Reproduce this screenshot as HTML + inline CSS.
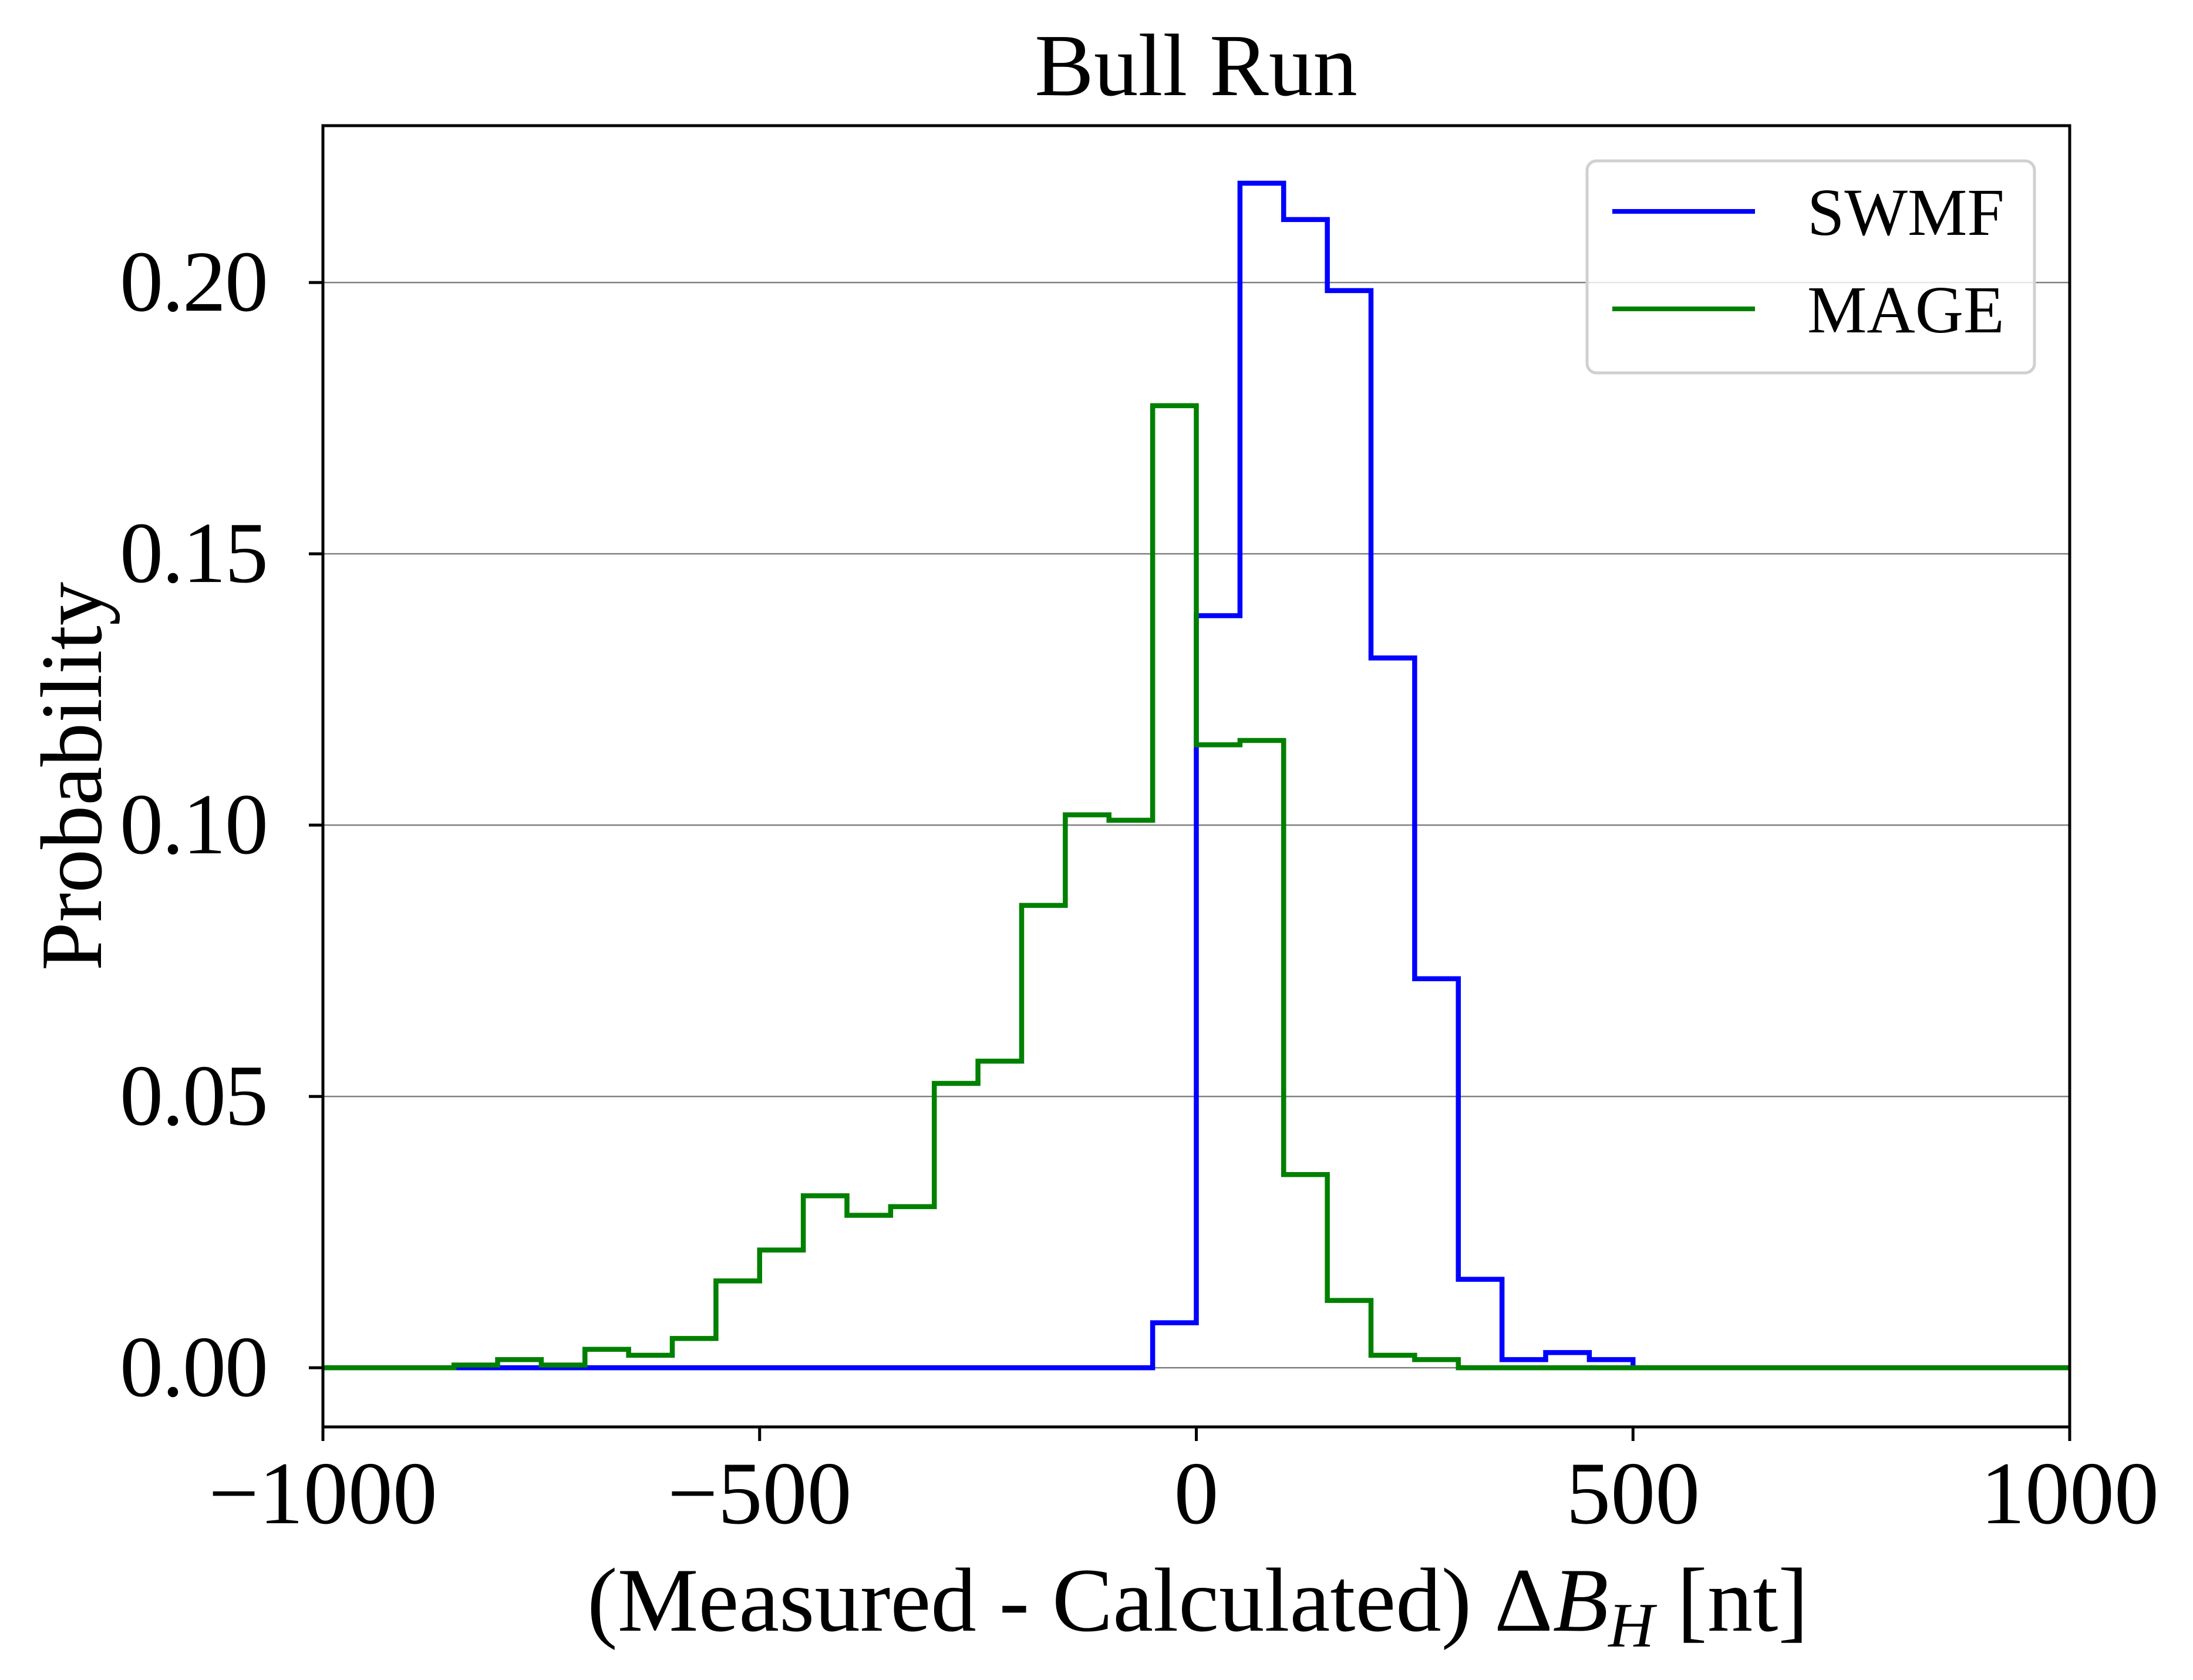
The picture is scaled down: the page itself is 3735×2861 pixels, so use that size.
<!DOCTYPE html>
<html><head><meta charset="utf-8"><style>
html,body{margin:0;padding:0;background:#fff}
svg{display:block}
text{font-family:"Liberation Serif",serif;fill:#000}
</style></head><body>
<svg id="chart" width="3735" height="2861" viewBox="0 0 3735 2861" xmlns="http://www.w3.org/2000/svg">
<rect width="3735" height="2861" fill="#fff"/>
<g id="grid"></g>
<g id="series"></g>
<rect x="550" y="214" width="2975" height="2216" fill="none" stroke="#000" stroke-width="5"/>
<g id="ticks"></g>
<text x="2037" y="162" font-size="151" text-anchor="middle">Bull Run</text>
<text x="2040" y="2777" font-size="155" text-anchor="middle">(Measured - Calculated) Δ<tspan font-style="italic">B</tspan><tspan font-style="italic" font-size="108" dy="27">H</tspan><tspan dy="-27"> [nt]</tspan></text>
<text x="0" y="0" font-size="149" text-anchor="middle" transform="translate(172,1322) rotate(-90)">Probability</text>
<g>
<rect x="2703" y="274" width="762" height="361" rx="16" fill="#fff" fill-opacity="0.8" stroke="#d0d0d0" stroke-width="5"/>
<line x1="2746" y1="360" x2="2989" y2="360" stroke="#0000ff" stroke-width="8"/>
<text x="3078" y="400" font-size="114">SWMF</text>
<line x1="2746" y1="526" x2="2989" y2="526" stroke="#008000" stroke-width="8"/>
<text x="3078" y="566" font-size="114">MAGE</text>
</g>
</svg>
<script>
const binEdges=[];for(let e=-1000;e<=1000;e+=50)binEdges.push(e);
const swmfStart=-50;
const swmfValues=[0.0083,0.1386,0.2183,0.2116,0.1985,0.1308,0.0717,0.0163,0.0015,0.0028,0.0015];
const mageStart=-850;
const mageValues=[0.0005,0.0015,0.0005,0.0034,0.0023,0.0054,0.016,0.0217,0.0317,0.0281,0.0297,0.0524,0.0565,0.0852,0.1019,0.1009,0.1773,0.1148,0.1156,0.0356,0.0124,0.0023,0.0015];
const yTicks=[0,0.05,0.10,0.15,0.20];
const yTickLabels=["0.00","0.05","0.10","0.15","0.20"];
const xTicks=[-1000,-500,0,500,1000];
const xTickLabels=["\u22121000","\u2212500","0","500","1000"];
const binWidth=50;
const NS="http://www.w3.org/2000/svg";
const L=550,R=3525,T=214,B=2430,xmin=-1000,xmax=1000,ymin=-0.0109,ymax=0.2289;
const xs=v=>L+(v-xmin)/(xmax-xmin)*(R-L);
const ys=v=>B-(v-ymin)/(ymax-ymin)*(B-T);
function mk(tag,attrs,parent){const el=document.createElementNS(NS,tag);for(const k in attrs)el.setAttribute(k,attrs[k]);parent.appendChild(el);return el;}
const grid=document.getElementById('grid'),ticks=document.getElementById('ticks'),series=document.getElementById('series');
yTicks.forEach((v,i)=>{
 const g=mk('line',{x1:L,x2:R,y1:ys(v),y2:ys(v),stroke:'#808080','stroke-width':2.5},grid);
 
 
 const t=mk('line',{x1:L-24,x2:L,y1:ys(v),y2:ys(v),stroke:'#000','stroke-width':5},ticks);
 
 
 const tx=mk('text',{x:455,y:ys(v)+48,'font-size':148,'text-anchor':'end','letter-spacing':'-2'},ticks);
 tx.textContent=yTickLabels[i];
 
 
});
xTicks.forEach((v,i)=>{
 const t=mk('line',{x1:xs(v),x2:xs(v),y1:B,y2:B+24,stroke:'#000','stroke-width':5},ticks);
 
 
 const tx=mk('text',{x:xs(v),y:2594,'font-size':152,'text-anchor':'middle'},ticks);
 tx.textContent=xTickLabels[i];
 
 
});
function stepPath(start,vals){
 const full=binEdges.slice(0,-1).map(e=>{const k=(e-start)/binWidth;return (k>=0&&k<vals.length)?vals[k]:0;});
 let d='M'+xs(binEdges[0])+','+ys(full[0]);
 full.forEach((v,i)=>{d+=' L'+xs(binEdges[i])+','+ys(v)+' L'+xs(binEdges[i+1])+','+ys(v);});
 return d;
}
const p1=mk('path',{d:stepPath(swmfStart,swmfValues),fill:'none',stroke:'#0000ff','stroke-width':8.5,'stroke-linejoin':'miter'},series);


const p2=mk('path',{d:stepPath(mageStart,mageValues),fill:'none',stroke:'#008000','stroke-width':8.5,'stroke-linejoin':'miter'},series);


</script>
</body></html>
